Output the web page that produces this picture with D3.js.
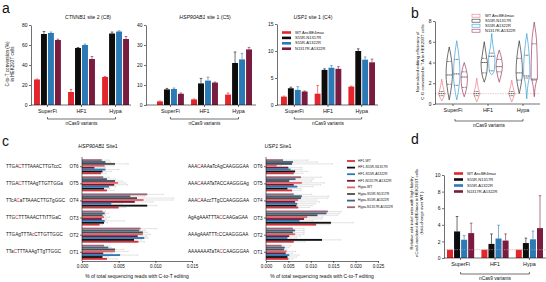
<!DOCTYPE html>
<html><head><meta charset="utf-8">
<script src="https://cdn.jsdelivr.net/npm/d3@7"></script>
<style>body{margin:0;background:#fff} svg{display:block} text{font-family:"Liberation Sans",Arial,sans-serif;fill:#111}</style>
</head><body>
<svg id="fig" width="546" height="282"></svg>
<script>
// ---------------- DATA ----------------
const groups = ["SuperFi","HF1","Hypa"];
const variants = ["WT AncBE4max","S55R-N1317R","S55R-A1322R","N1317R-A1322R"];
const barColors = ["#e3262d","#0d0d0d","#2b79b5","#7a1c40"];
const violinColors = ["#ec7b86","#333333","#3aa0d8","#a33a63"];

const ctnnbVals = [[25.5,71,72,65],[13,57,60,46],[28,71.5,73.5,66]];
const ctnnbErr  = [[0.5,2.5,1,0.8],[2.5,0.5,1,2.5],[0.5,1.5,0.8,2.5]];
const ctnnbTicks = [0,20,40,60,80];
const hspVals = [[1.8,7.8,8,5.6],[2.8,10.8,12.2,11.2],[5.2,21,22.8,27.8]];
const hspErr  = [[0.2,0.5,0.5,0.4],[0.2,2.5,1.7,0.3],[0.8,5.5,3,1]];
const hspTicks = [0,10,20,30,40];
const uspVals = [[1.55,3.1,2.8,2.5],[2.1,6.5,6.9,6.7],[3.4,10,8.4,7.9]];
const uspErr  = [[0.1,0.2,0.6,0.1],[1.5,0.2,0.4,0.4],[0.1,0.4,0.5,0.6]];
const uspTicks = [0,5,10,15];

// violin summaries [min, q1, median, q3, max]
const violinStats = [
  [[0.3,0.8,1,1.2,2.4],[0.4,1.9,2.8,4.1,5.5],[0.4,1.8,2.9,4.3,6.1],[0.7,1.6,2.6,3.1,4.0]],
  [[0.2,0.8,1,1.2,2.5],[2.1,3.0,4.0,4.4,6.0],[2.8,3.2,4.6,4.9,6.8],[2.1,3.1,3.6,4.3,5.2]],
  [[0.2,0.8,1,1.2,2.3],[1.0,2.3,3.0,4.4,6.1],[0.5,2.5,2.7,4.7,6.8],[0.7,2.3,2.4,5.8,7.9]]
];
const violinTicks = [0,2,4,6,8];

const dVals = [[1,3.2,2.2,3.0],[1,1.7,2.35,2.1],[1,1.8,2.25,3.6]];
const dErr  = [[0,1.8,0.5,1.2],[0,1.2,1.6,0.8],[0,0.6,1.0,3.9]];
const dTicks = [0,2,4,6,8,10];

const otLabels = ["OT6","OT5","OT4","OT3","OT2","OT1"];
const cSeries = ["HF1-WT","HF1-S55R-N1317R","HF1-S55R-A1322R","HF1-N1317R-A1322R","Hypa-WT","Hypa-S55R-N1317R","Hypa-S55R-A1322R","Hypa-N1317R-A1322R"];
const cColors = ["#d8313b","#111111","#2c79b3","#6f1b3b","#e0646e","#4d4d4d","#41637e","#9a6574"];
const hspSeqs = ["TTGA[C]TTTAAACTTGTccC","TTGA[C]TTTAAgTTGTTGGa","TTcA[C]aTTAAACTTGTgGGC","TTG[C]TTTAAACTTtTTGaC","TTGAgTTTA[c]CTTGTTGGC","TTa[C]TTTAAAgTTgTTGGC"];
const uspSeqs = ["AAA[C]AAAaTcAgCAAGGGAA","AAA[C]AAATaTACCAAGGGAg","AAA[C]AAccTTgCCAAGGGAA","AgAgAAATTTA[C]CAAGaGAA","AAAgAAATTT[c]CCAAGGGAA","AAAAAAATaTA[C]CAAGGGAA"];
const hspOT = [
  [0.0026,0.0028,0.0032,0.0017,0.0031,0.0045,0.0032,0.0027],
  [0.0034,0.0030,0.0037,0.0044,0.0049,0.0045,0.0034,0.0029],
  [0.0050,0.0089,0.0040,0.0072,0.0084,0.0075,0.0066,0.0089],
  [0.0024,0.0030,0.0031,0.0027,0.0030,0.0028,0.0031,0.0028],
  [0.0077,0.0071,0.0085,0.0076,0.0083,0.0083,0.0078,0.0080],
  [0.0034,0.0028,0.0052,0.0029,0.0045,0.0045,0.0036,0.0030]
];
const hspOTErr = [
  [0.0007,0.0012,0.0018,0.0015,0.0012,0.0018,0.0007,0.0010],
  [0.0010,0.0008,0.0009,0.0018,0.0010,0.0010,0.0012,0.0008],
  [0.0010,0.0013,0.0015,0.0025,0.0040,0.0050,0.0020,0.0022],
  [0.0004,0.0005,0.0027,0.0006,0.0008,0.0004,0.0005,0.0004],
  [0.0008,0.0010,0.0005,0.0012,0.0010,0.0006,0.0008,0.0022],
  [0.0014,0.0008,0.0024,0.0012,0.0018,0.0012,0.0004,0.0008]
];
const uspOT = [
  [0.0062,0.0065,0.0055,0.0050,0.0024,0.0058,0.0060,0.0038],
  [0.0058,0.0048,0.0070,0.0062,0.0080,0.0052,0.0066,0.0078],
  [0.0072,0.0068,0.0070,0.0065,0.0072,0.0078,0.0080,0.0062],
  [0.0112,0.0145,0.0075,0.0085,0.0092,0.0115,0.0135,0.0138],
  [0.0062,0.0125,0.0048,0.0052,0.0065,0.0060,0.0065,0.0060],
  [0.0050,0.0048,0.0052,0.0044,0.0046,0.0040,0.0042,0.0035]
];
const uspOTErr = [
  [0.0020,0.0028,0.0025,0.0030,0.0010,0.0090,0.0055,0.0055],
  [0.0020,0.0030,0.0035,0.0060,0.0050,0.0050,0.0040,0.0045],
  [0.0025,0.0035,0.0040,0.0055,0.0040,0.0060,0.0060,0.0040],
  [0.0030,0.0050,0.0030,0.0040,0.0035,0.0045,0.0030,0.0030],
  [0.0025,0.0042,0.0020,0.0025,0.0020,0.0025,0.0020,0.0025],
  [0.0010,0.0020,0.0022,0.0015,0.0020,0.0005,0.0010,0.0020]
];
const cTicks1 = [0,0.005,0.010,0.015];
const cTicks2 = [0,0.005,0.010,0.015,0.020,0.025];

// ---------------- DRAW ----------------
const svg = d3.select("#fig");
const FONT = '"Liberation Sans",Arial,sans-serif';

function styleAxis(g, fs){
  g.attr("font-size", fs).attr("font-family", FONT);
  g.selectAll("path,line").attr("stroke","#111").attr("stroke-width",0.6);
  g.selectAll("text").attr("fill","#111");
}

function bracket(x1, x2, y, label){
  svg.append("path").attr("d",`M${x1},${y-2}V${y}H${x2}V${y-2}`).attr("fill","none").attr("stroke","#111").attr("stroke-width",0.6);
  svg.append("text").attr("x",(x1+x2)/2).attr("y",y+6).attr("text-anchor","middle").attr("font-size",4.8).text(label);
}

function rotLabel(x, y, lines, fs, gap){
  const t = svg.append("text").attr("transform",`translate(${x},${y}) rotate(-90)`).attr("text-anchor","middle").attr("font-size",fs);
  lines.forEach((l,i)=> t.append("tspan").attr("x",0).attr("dy", i===0?0:gap).text(l));
}

function barChart(o){
  const y = d3.scaleLinear().domain([0,o.ymax]).range([o.yBottom,o.yTop]);
  const x0 = d3.scaleBand().domain(groups).range(o.band).paddingInner(0.21);
  const x1 = d3.scaleBand().domain(variants).range([0,x0.bandwidth()]).paddingInner(0.15);
  const g = svg.append("g");
  groups.forEach((gr,gi)=>{
    variants.forEach((v,vi)=>{
      const val = o.vals[gi][vi], e = o.errs[gi][vi];
      const bx = x0(gr)+x1(v), bw = x1.bandwidth();
      g.append("rect").attr("x",bx).attr("y",y(val)).attr("width",bw).attr("height",y(0)-y(val)).attr("fill",barColors[vi]);
      if(e>0){
        const cx = bx+bw/2;
        g.append("path").attr("d",`M${cx},${y(val)}V${y(val+e)}M${cx-1.3},${y(val+e)}H${cx+1.3}`).attr("stroke",barColors[vi]).attr("stroke-width",0.6).attr("fill","none");
      }
    });
  });
  if(o.refLine){
    g.append("line").attr("x1",o.axisX0).attr("x2",o.axisX1).attr("y1",y(1)).attr("y2",y(1)).attr("stroke","#c9a0a0").attr("stroke-width",0.6).attr("stroke-dasharray","1.5,1");
  }
  const ya = g.append("g").attr("transform",`translate(${o.axisX0},0)`).call(d3.axisLeft(y).tickValues(o.ticks).tickSize(2).tickSizeOuter(0).tickPadding(1.5));
  styleAxis(ya,5);
  const xa = g.append("g").attr("transform",`translate(0,${o.yBottom})`).call(d3.axisBottom(x0).tickSize(2).tickSizeOuter(0).tickPadding(2));
  xa.select(".domain").attr("d",`M${o.axisX0},0H${o.axisX1}`);
  styleAxis(xa,5.4);
  if(o.title){
    const t = svg.append("text").attr("x",o.titleX).attr("y",o.titleY).attr("text-anchor","middle").attr("font-size",5.2);
    t.append("tspan").attr("font-style","italic").text(o.title[0]);
    t.append("tspan").text(o.title[1]);
  }
  bracket(x0(groups[0])+x0.bandwidth()/2, x0(groups[2])+x0.bandwidth()/2, o.brY, "nCas9 variants");
}

function legend(x, y0, step, fs, outline){
  variants.forEach((v,i)=>{
    const yy = y0 + i*step;
    if(outline){
      svg.append("rect").attr("x",x).attr("y",yy-1.5).attr("width",8).attr("height",3).attr("fill","#fff").attr("stroke",violinColors[i]).attr("stroke-width",0.6);
    } else {
      svg.append("rect").attr("x",x).attr("y",yy-1.3).attr("width",9).attr("height",2.6).attr("fill",barColors[i]);
    }
    svg.append("text").attr("x",x+13).attr("y",yy).attr("dominant-baseline","middle").attr("font-size",fs).text(v);
  });
}

// panel letters
[["a",2,13],["b",411,18],["c",2,146],["d",411,144]].forEach(([l,x,y])=>{
  svg.append("text").attr("x",x).attr("y",y).attr("font-size",14).text(l);
});

// ---- panel a ----
barChart({vals:ctnnbVals, errs:ctnnbErr, ticks:ctnnbTicks, ymax:80, yTop:25, yBottom:105, band:[34,129], axisX0:31, axisX1:131, title:["CTNNB1"," site 2 (C8)"], titleX:88, titleY:19, brY:119});
barChart({vals:hspVals, errs:hspErr, ticks:hspTicks, ymax:40, yTop:25, yBottom:105, band:[157,252], axisX0:146, axisX1:256, title:["HSP90AB1"," site 1 (C5)"], titleX:205, titleY:19, brY:119});
barChart({vals:uspVals, errs:uspErr, ticks:uspTicks, ymax:15, yTop:24, yBottom:105, band:[281,375], axisX0:277, axisX1:378, title:["USP1"," site 1 (C4)"], titleX:313, titleY:19, brY:119});
legend(282, 32.5, 5.4, 4, false);
rotLabel(9, 64, ["C-to-T conversion (%)","in HEK293T cells"], 4.6, 5.2);

// ---- panel b : violins ----
(function(){
  const y = d3.scaleLinear().domain([0,8]).range([104,21]);
  const x0 = d3.scaleBand().domain(groups).range([438,538]).paddingInner(0.143);
  const x1 = d3.scaleBand().domain(variants).range([0,x0.bandwidth()]);
  const hw = 3.2;
  const g = svg.append("g");
  g.append("line").attr("x1",435).attr("x2",540).attr("y1",y(1)).attr("y2",y(1)).attr("stroke","#d4a9ad").attr("stroke-width",0.6).attr("stroke-dasharray","1.5,1");
  groups.forEach((gr,gi)=>{
    variants.forEach((v,vi)=>{
      const s = violinStats[gi][vi];
      const cx = x0(gr)+x1(v)+x1.bandwidth()/2;
      const pts = [[s[0],0],[s[1],hw*0.78],[s[2],hw],[s[3],hw*0.78],[s[4],0]];
      const area = d3.area().curve(d3.curveMonotoneY).y(d=>y(d[0])).x0(d=>cx-d[1]).x1(d=>cx+d[1]);
      g.append("path").attr("d",area(pts)).attr("fill","#fff").attr("stroke",violinColors[vi]).attr("stroke-width",0.7);
      [[s[1],0.7,"0.8,0.6"],[s[2],0.9,"1.5,0.5"],[s[3],0.7,"0.8,0.6"]].forEach(([q,f,da])=>{
        g.append("line").attr("x1",cx-hw*f).attr("x2",cx+hw*f).attr("y1",y(q)).attr("y2",y(q)).attr("stroke","#111").attr("stroke-width",0.7).attr("stroke-dasharray",da);
      });
    });
  });
  const ya = g.append("g").attr("transform","translate(435,0)").call(d3.axisLeft(y).tickValues(violinTicks).tickSize(2).tickSizeOuter(0).tickPadding(1.5));
  styleAxis(ya,5);
  const xa = g.append("g").attr("transform","translate(0,104)").call(d3.axisBottom(x0).tickSize(2).tickSizeOuter(0).tickPadding(2));
  xa.select(".domain").attr("d","M435,0H540");
  styleAxis(xa,5.4);
  bracket(x0(groups[0])+x0.bandwidth()/2+2, x0(groups[2])+x0.bandwidth()/2, 121, "nCas9 variants");
  legend(472, 15.7, 5, 4, true);
  rotLabel(419, 62, ["Normalized editing efficiency of","C:G converted to T:A in HEK293T cells"], 4.4, 5);
})();

// ---- panel d ----
barChart({vals:dVals, errs:dErr, ticks:dTicks, ymax:10, yTop:175, yBottom:258, band:[447,543], axisX0:444, axisX1:546, refLine:true, brY:274});
legend(454, 173.5, 6, 4, false);
rotLabel(413, 213, ["Relative edit:indel ratio with high fidelity","nCas9-mediated AncBE4max in HEK293T cells","(fold-change over WT )"], 4.2, 4.8);

// ---- panel c ----
function hbarChart(o){
  const x = d3.scaleLinear().domain([0,o.xmax]).range([o.axisX, o.axisX1]);
  const yb = d3.scaleBand().domain(otLabels).range([158.5,260.5]).paddingInner(0.12).paddingOuter(0.04);
  const ys = d3.scaleBand().domain([...cSeries].reverse()).range([0,yb.bandwidth()]);
  const g = svg.append("g");
  otLabels.forEach((ot,oi)=>{
    cSeries.forEach((s,si)=>{
      const v = o.vals[oi][si], e = o.errs[oi][si];
      const by = yb(ot)+ys(s), bh = ys.bandwidth();
      g.append("rect").attr("x",x(0)).attr("y",by).attr("width",x(v)-x(0)).attr("height",bh).attr("fill",cColors[si]);
      const cy = by+bh/2;
      g.append("path").attr("d",`M${x(v)},${cy}H${x(v+e)}M${x(v+e)},${cy-0.8}V${cy+0.8}`).attr("stroke","#b8b8b8").attr("stroke-width",0.4).attr("fill","none");
    });
    const t = svg.append("text").attr("x",o.seqX).attr("y",yb(ot)+yb.bandwidth()/2).attr("dominant-baseline","middle").attr("font-size",4.6);
    o.seqs[oi].split(/(\[[^\]]+\])/).filter(p=>p.length).forEach(p=>{
      if(p[0]==="[") t.append("tspan").attr("fill","#e0262d").style("fill","#e0262d").text(p.slice(1,-1));
      else t.append("tspan").text(p);
    });
  });
  const ya = g.append("g").attr("transform",`translate(${o.axisX},0)`).call(d3.axisLeft(yb).tickSize(2).tickSizeOuter(0).tickPadding(1.5));
  ya.select(".domain").attr("d","M0,157V261");
  styleAxis(ya,4.6);
  const xa = g.append("g").attr("transform","translate(0,261)").call(d3.axisBottom(x).tickValues(o.ticks).tickFormat(d3.format(".3f")).tickSize(2).tickSizeOuter(0).tickPadding(2));
  styleAxis(xa,4.6);
  svg.append("text").attr("x",(o.axisX+o.axisX1)/2).attr("y",278).attr("text-anchor","middle").attr("font-size",5).text("% of total sequencing reads with C-to-T editing");
  const t = svg.append("text").attr("x",o.titleX).attr("y",148).attr("text-anchor","middle").attr("font-size",5.2);
  t.append("tspan").attr("font-style","italic").text(o.title[0]);
  t.append("tspan").text(o.title[1]);
}
hbarChart({vals:hspOT, errs:hspOTErr, seqs:hspSeqs, xmax:0.015, ticks:cTicks1, axisX:82, axisX1:192, seqX:6, title:["HSP90AB1"," Site1"], titleX:98});
hbarChart({vals:uspOT, errs:uspOTErr, seqs:uspSeqs, xmax:0.025, ticks:cTicks2, axisX:266, axisX1:378, seqX:188, title:["USP1"," Site1"], titleX:278});

// c legend
cSeries.forEach((s,i)=>{
  const yy = 161 + i*6.6;
  svg.append("rect").attr("x",347).attr("y",yy-0.9).attr("width",8).attr("height",1.8).attr("fill",cColors[i]);
  svg.append("text").attr("x",358).attr("y",yy).attr("dominant-baseline","middle").attr("font-size",3.4).text(s);
});
</script>
</body></html>
